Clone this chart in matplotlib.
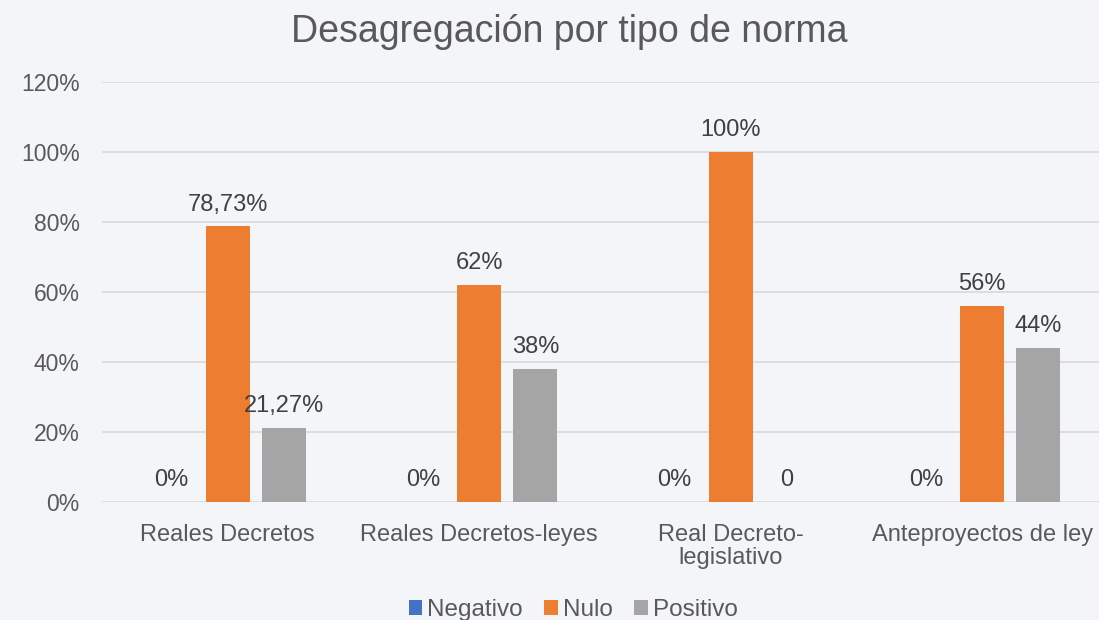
import matplotlib.pyplot as plt
import numpy as np

# Datos
categorias = ["Reales Decretos", "Reales Decretos-leyes", "Real Decreto-\nlegislativo", "Anteproyectos de ley"]
negativo = [0, 0, 0, 0]
nulo = [78.73, 62, 100, 56]
positivo = [21.27, 38, 0, 44]
etiq_negativo = ["0%", "0%", "0%", "0%"]
etiq_nulo = ["78,73%", "62%", "100%", "56%"]
etiq_positivo = ["21,27%", "38%", "0", "44%"]
yticks = [0, 20, 40, 60, 80, 100, 120]

plt.rcParams['font.family'] = ['Liberation Sans', 'DejaVu Sans']
fondo = "#f3f5f8"
texto = "#595959"

fig = plt.figure(figsize=(10.99, 6.20), dpi=100, facecolor=fondo)
ax = fig.add_axes([102/1099, 1-502/620, 1006/1099, 420/620], facecolor=fondo)

x = np.arange(len(categorias))
ancho = 0.175
paso = 0.223
series = [(negativo, etiq_negativo, "#4472C4", "Negativo"),
          (nulo, etiq_nulo, "#ED7D31", "Nulo"),
          (positivo, etiq_positivo, "#A5A5A5", "Positivo")]

for i, (vals, etiqs, color, nombre) in enumerate(series):
    pos = x + (i-1)*paso
    ax.bar(pos, vals, ancho, color=color, label=nombre, zorder=3)
    for p, v, t in zip(pos, vals, etiqs):
        ax.annotate(t, (p, v), xytext=(0, 15.5), textcoords="offset points",
                    ha="center", va="center", fontsize=17, color="#404040")

ax.set_xlim(-0.5, 3.5)
ax.set_ylim(0, 120)
ax.set_yticks(yticks)
ax.set_yticklabels([f"{t}%" for t in yticks])
ax.set_xticks(x)
ax.set_xticklabels(categorias, linespacing=1.05)
ax.tick_params(length=0, labelcolor=texto)
ax.tick_params(axis="x", pad=16, labelsize=17)
ax.tick_params(axis="y", pad=16, labelsize=16.5)
ax.grid(axis="y", color="#d9d9d9", linewidth=1.2, zorder=0)
for s in ax.spines.values():
    s.set_visible(False)

fig.text(569/1099, 1-32/620, "Desagregación por tipo de norma", ha="center", va="center",
         fontsize=27, color=texto)

fig.legend(loc="center", bbox_to_anchor=(573/1099, 1-610/620), ncol=3, frameon=False,
           fontsize=17.5, labelcolor=texto, handlelength=0.55, handleheight=0.55,
           handletextpad=0.2, columnspacing=0.9)

plt.savefig("out.png", dpi=100, facecolor=fondo)
